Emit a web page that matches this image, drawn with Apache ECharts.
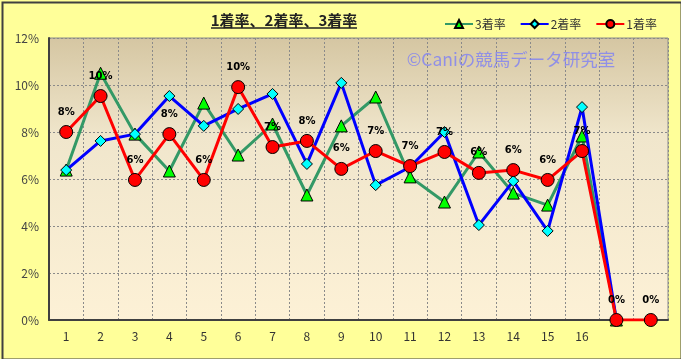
<!DOCTYPE html>
<html>
<head>
<meta charset="utf-8">
<script src="https://cdn.jsdelivr.net/npm/echarts@6/dist/echarts.min.js"></script>
<style>
html,body{margin:0;padding:0;background:#FFFF99;}
#c{width:681px;height:359px;}
</style>
</head>
<body>
<div id="c"></div>
<script>
var categories = ['1','2','3','4','5','6','7','8','9','10','11','12','13','14','15','16','',''];
var yTicks = [0,2,4,6,8,10,12];
var rate3 = [6.38,10.5,7.91,6.34,9.23,7.02,8.34,5.32,8.26,9.49,6.09,5.02,7.15,5.40,4.89,7.83,0,'-'];
var rate2 = [6.38,7.62,7.91,9.53,8.26,8.98,9.62,6.64,10.09,5.74,6.51,8.0,4.04,5.91,3.79,9.06,0,'-'];
var rate1 = [8.0,9.53,5.96,7.91,5.96,9.91,7.36,7.62,6.43,7.19,6.55,7.15,6.26,6.38,5.96,7.19,0,0];

var FONT = '"Noto Sans CJK JP", "Noto Sans", sans-serif';
var chart = echarts.init(document.getElementById('c'));
chart.setOption({
  backgroundColor: '#FFFF99',
  animation: false,
  textStyle: {fontFamily: FONT},
  grid: {
    left: 49, right: 13, top: 38, bottom: 39,
    show: true,
    backgroundColor: new echarts.graphic.LinearGradient(0,0,0,1,[
      {offset:0,color:'#D5C6A2'},
      {offset:0.35,color:'#F0E6CC'},
      {offset:1,color:'#FDF1D6'}
    ]),
    borderColor: '#8A8A8A', borderWidth: 1
  },
  legend: {
    left: 439, top: 13,
    itemWidth: 28, itemHeight: 10, itemGap: 14,
    textStyle: {fontSize: 12, color: '#333', fontFamily: FONT, padding:[0,0,0,-3]},
    data: ['3着率','2着率','1着率']
  },
  graphic: [
    {type:'rect', left:0, top:0, shape:{x:0,y:0,width:679,height:357}, style:{fill:'none', stroke:'#404040', lineWidth:2}, position:[1,1], silent:true},
    {type:'text', x:284, y:20, style:{text:'1着率、2着率、3着率', font:'bold 15px "Noto Sans CJK JP"', fill:'#222', align:'center', verticalAlign:'middle'}},
    {type:'line', shape:{x1:211, y1:28, x2:357, y2:28}, style:{stroke:'#222', lineWidth:1.5}},
    {type:'text', x:511, y:59, z:1, style:{text:'©Caniの競馬データ研究室', font:'17.5px "Noto Sans CJK JP"', fill:'rgba(125,128,245,0.8)', align:'center', verticalAlign:'middle'}}
  ],
  xAxis: {
    type: 'category',
    data: categories,
    boundaryGap: true,
    axisLine: {lineStyle: {color: '#404040', width: 2}},
    axisTick: {show: false},
    axisLabel: {color: '#333', fontSize: 12, margin: 10, interval: 0, fontFamily: FONT},
    splitLine: {show: true, interval: 0, lineStyle: {color: '#8A8A8A', type: [2,2], width: 1}}
  },
  yAxis: {
    type: 'value',
    min: yTicks[0], max: yTicks[yTicks.length-1], interval: 2,
    axisLine: {show: true, lineStyle: {color: '#404040', width: 2}},
    axisTick: {show: false},
    axisLabel: {color: '#444', fontSize: 12, margin: 10, formatter: '{value}%', fontFamily: FONT},
    splitLine: {show: true, lineStyle: {color: '#8A8A8A', type: [2,2], width: 1}}
  },
  series: [
    {
      name: '3着率', type: 'line', data: rate3, z: 3,
      symbol: 'triangle', symbolSize: 12, showAllSymbol: true,
      lineStyle: {color: '#339966', width: 3},
      itemStyle: {color: '#00FF00', borderColor: '#000', borderWidth: 1}
    },
    {
      name: '2着率', type: 'line', data: rate2, z: 4,
      symbol: 'diamond', symbolSize: 11, showAllSymbol: true,
      lineStyle: {color: '#0000FF', width: 3},
      itemStyle: {color: '#00FFFF', borderColor: '#000', borderWidth: 1}
    },
    {
      name: '1着率', type: 'line', data: rate1, z: 5,
      symbol: 'circle', symbolSize: 13, showAllSymbol: true,
      lineStyle: {color: '#FF0000', width: 3},
      itemStyle: {color: '#FF0000', borderColor: '#000', borderWidth: 1},
      label: {
        show: true, position: 'top', distance: 8,
        fontSize: 10, fontWeight: 'bold', color: '#000', fontFamily: 'DejaVu Sans',
        formatter: function(p){ return Math.round(p.value) + '%'; }
      }
    }
  ]
});
</script>
</body>
</html>
